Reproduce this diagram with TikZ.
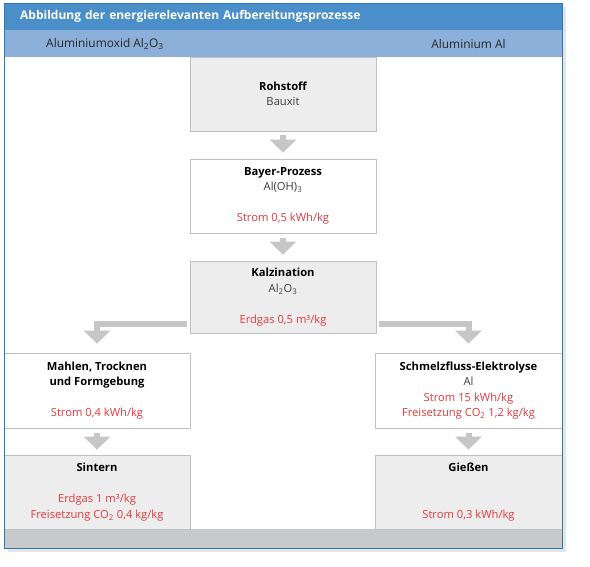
\documentclass[tikz,border=0pt]{standalone}
\usepackage{fontspec}
\setmainfont{Open Sans}
\usepackage{xcolor}
\definecolor{headblue}{RGB}{74,143,201}
\definecolor{bandblue}{RGB}{141,176,218}
\definecolor{frameblue}{RGB}{44,120,190}
\definecolor{boxgray}{RGB}{237,237,237}
\definecolor{boxline}{RGB}{192,192,192}
\definecolor{arrowgray}{RGB}{198,198,198}
\definecolor{footgray}{RGB}{200,201,203}
\definecolor{energyred}{RGB}{226,58,62}
\definecolor{textgray}{RGB}{60,60,60}
\usepackage{tikz}
\usetikzlibrary{arrows.meta}
\usetikzlibrary{shadows}
\newcommand{\rd}[1]{\textcolor{energyred}{#1}}
\newcommand{\chemsub}[1]{\textsubscript{#1}}
\newcommand{\widthcol}{186pt}
\newcommand{\heightbox}{74pt}
\tikzset{
    common/.style={draw=boxline, line width=0.8pt, minimum width=\widthcol, minimum height=\heightbox, inner sep=0pt, align=center, text=textgray, font=\fontsize{11.2pt}{15.5pt}\selectfont},
    graybox/.style={common, fill=boxgray},
    whitebox/.style={common, fill=white},
    bandlabel/.style={text=black!85, font=\fontsize{11.9pt}{14pt}\selectfont},
    titlebar/.style={anchor=north west, fill=headblue, text=white, minimum width=558pt, minimum height=27pt, text width=526pt, inner xsep=16pt, align=left, font=\bfseries\fontsize{12pt}{14pt}\selectfont},
    flow/.style={draw=arrowgray, line width=6pt, -{Triangle[width=26pt, length=13pt]}}
}

\begin{document}
\begin{tikzpicture}[x=1pt, y=-1pt]
  \useasboundingbox (0,0) rectangle (590,566);

  \path[fill=white, drop shadow={shadow xshift=4pt, shadow yshift=-4pt, opacity=0.2, fill=black!50}] (4,3) rectangle (562,548);
  \fill[bandblue] (4,30) rectangle (562,57);
  \fill[footgray] (4,529) rectangle (562,548);
  \node[titlebar] (title) at (4,3) {Abbildung der energierelevanten Aufbereitungsprozesse};
  \node[bandlabel] (col-oxid) at (105,44) {Aluminiumoxid Al\chemsub{2}O\chemsub{3}};
  \node[bandlabel] (col-metal) at (468.5,44) {Aluminium Al};

  \node[graybox] (rohstoff) at (283,94) {\textbf{\color{black}Rohstoff}\\Bauxit};
  \node[whitebox] (bayer) at (283,196) {\textbf{\color{black}Bayer-Prozess}\\Al(OH)\chemsub{3}\\\strut\\\rd{Strom 0,5 kWh/kg}};
  \node[graybox, minimum height=72pt] (kalzination) at (283,297) {\textbf{\color{black}Kalzination}\\Al\chemsub{2}O\chemsub{3}\\\strut\\\rd{Erdgas 0,5 m³/kg}};

  \node[whitebox, minimum height=75pt] (mahlen) at (97,390.5) {\textbf{\color{black}Mahlen, Trocknen}\\\textbf{\color{black}und Formgebung}\\\strut\\\rd{Strom 0,4 kWh/kg}};
  \node[graybox] (sintern) at (97,492) {\textbf{\color{black}Sintern}\\\strut\\\rd{Erdgas 1 m³/kg}\\\rd{Freisetzung CO\chemsub{2} 0,4 kg/kg}};

  \node[whitebox, minimum height=75pt, minimum width=187pt] (elektrolyse) at (468.5,390.5) {\textbf{\color{black}Schmelzfluss-Elektrolyse}\\Al\\\rd{Strom 15 kWh/kg}\\\rd{Freisetzung CO\chemsub{2} 1,2 kg/kg}};
  \node[graybox, minimum width=187pt] (giessen) at (468.5,492) {\textbf{\color{black}Gießen}\\\strut\\\strut\\\rd{Strom 0,3 kWh/kg}};

  \draw[frameblue, line width=1pt] (4,3) rectangle (562,548);

  \draw[flow, shorten <=4pt, shorten >=6pt] (rohstoff.south) -- (bayer.north);
  \draw[flow, shorten <=5pt, shorten >=6pt] (bayer.south) -- (kalzination.north);
  \draw[flow, shorten >=9pt] ([shift={(-3,-9.5)}]kalzination.south west) -| (mahlen.north);
  \draw[flow, shorten >=9pt] ([shift={(3,-9.5)}]kalzination.south east) -| (elektrolyse.north);
  \draw[flow, shorten <=5pt, shorten >=5pt] (mahlen.south) -- (sintern.north);
  \draw[flow, shorten <=5pt, shorten >=5pt] (elektrolyse.south) -- (giessen.north);
\end{tikzpicture}
\end{document}
